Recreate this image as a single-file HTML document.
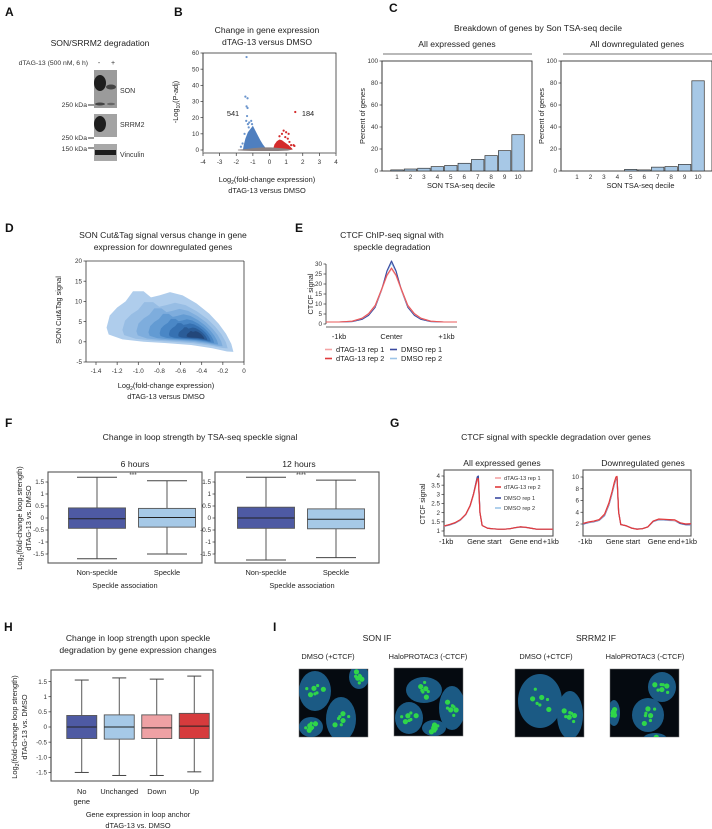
<!DOCTYPE html>
<html><head><meta charset="utf-8"><style>
html,body{margin:0;padding:0;background:#fff;}
svg{display:block;font-family:"Liberation Sans",Arial,sans-serif;}
.t{font-size:8.6px;fill:#222;text-anchor:middle;}
.tk{font-size:6.3px;fill:#333;}
.ax{font-size:7.4px;fill:#222;text-anchor:middle;}
.pl{font-size:12px;font-weight:bold;fill:#111;}
</style></head><body>
<svg id="fig" width="712" height="829" viewBox="0 0 712 829" xmlns="http://www.w3.org/2000/svg">
<text class="pl" x="5" y="16">A</text>
<text class="pl" x="174" y="16">B</text>
<text class="pl" x="389" y="12">C</text>
<text class="pl" x="5" y="232">D</text>
<text class="pl" x="295" y="232">E</text>
<text class="pl" x="5" y="427">F</text>
<text class="pl" x="390" y="427">G</text>
<text class="pl" x="4" y="631">H</text>
<text class="pl" x="273" y="631">I</text>

<g>
<text class="t" x="100" y="46">SON/SRRM2 degradation</text>
<text class="tk" x="88" y="65" text-anchor="end" style="font-size:6.8px">dTAG-13 (500 nM, 6 h)</text>
<text class="tk" x="99" y="65" text-anchor="middle" style="font-size:7px">-</text>
<text class="tk" x="113" y="65" text-anchor="middle" style="font-size:7px">+</text>
<rect x="94" y="70" width="23" height="38" fill="#9b9b9b"/>
<ellipse cx="100" cy="83" rx="6" ry="8" fill="#1e1e1e"/><ellipse cx="111" cy="87" rx="5" ry="2.5" fill="#444"/>
<ellipse cx="100" cy="104" rx="5" ry="1.5" fill="#444"/><ellipse cx="111" cy="104" rx="4" ry="1.2" fill="#666"/>
<rect x="94" y="114" width="23" height="23" fill="#a3a3a3"/>
<ellipse cx="100" cy="124" rx="6" ry="8" fill="#1e1e1e"/>
<rect x="94" y="144" width="23" height="17" fill="#a8a8a8"/>
<rect x="95" y="150" width="21" height="5" fill="#1e1e1e"/>
<text class="tk" x="120" y="93" style="font-size:7px">SON</text>
<text class="tk" x="120" y="127" style="font-size:7px">SRRM2</text>
<text class="tk" x="120" y="157" style="font-size:7px">Vinculin</text>
<text class="tk" x="87" y="107" text-anchor="end" style="font-size:6.8px">250 kDa</text><line x1="88" x2="94" y1="105" y2="105" stroke="#333"/>
<text class="tk" x="87" y="140" text-anchor="end" style="font-size:6.8px">250 kDa</text><line x1="88" x2="94" y1="138" y2="138" stroke="#333"/>
<text class="tk" x="87" y="151" text-anchor="end" style="font-size:6.8px">150 kDa</text><line x1="88" x2="94" y1="148" y2="148" stroke="#333"/>
</g>

<text class="t" x="267" y="33">Change in gene expression</text>
<text class="t" x="267" y="45">dTAG-13 versus DMSO</text>
<text class="ax" x="267" y="182">Log<tspan font-size="5" dy="2">2</tspan><tspan dy="-2">(fold-change expression)</tspan></text>
<text class="ax" x="267" y="193">dTAG-13 versus DMSO</text>
<text class="ax" transform="translate(178,102) rotate(-90)">-Log<tspan font-size="5" dy="2">10</tspan><tspan dy="-2">(P-adj)</tspan></text>

<text class="t" x="538" y="31">Breakdown of genes by Son TSA-seq decile</text>
<text class="t" x="457" y="47">All expressed genes</text>
<line x1="383" x2="532" y1="54" y2="54" stroke="#444" stroke-width="0.8"/>
<text class="t" x="637" y="47">All downregulated genes</text>
<line x1="563" x2="712" y1="54" y2="54" stroke="#444" stroke-width="0.8"/>

<text class="t" x="163" y="238">SON Cut&amp;Tag signal versus change in gene</text>
<text class="t" x="163" y="250">expression for downregulated genes</text>
<text class="ax" transform="translate(61,310) rotate(-90)">SON Cut&amp;Tag signal</text>
<text class="ax" x="166" y="388">Log<tspan font-size="5" dy="2">2</tspan><tspan dy="-2">(fold-change expression)</tspan></text>
<text class="ax" x="166" y="399">dTAG-13 versus DMSO</text>

<text class="t" x="392" y="238">CTCF ChIP-seq signal with</text>
<text class="t" x="392" y="250">speckle degradation</text>
<text class="ax" transform="translate(313,294) rotate(-90)">CTCF signal</text>

<text class="t" x="200" y="440">Change in loop strength by TSA-seq speckle signal</text>
<text class="t" x="135" y="467">6 hours</text>
<text class="t" x="299" y="467">12 hours</text>
<text class="ax" transform="translate(22,518) rotate(-90)">Log<tspan font-size="5" dy="2">2</tspan><tspan dy="-2">(fold-change loop strength)</tspan></text>
<text class="ax" transform="translate(31,518) rotate(-90)">dTAG-13 vs. DMSO</text>
<text class="ax" x="125" y="588">Speckle association</text>
<text class="ax" x="302" y="588">Speckle association</text>

<text class="t" x="556" y="440">CTCF signal with speckle degradation over genes</text>
<text class="t" x="502" y="466">All expressed genes</text>
<text class="t" x="643" y="466">Downregulated genes</text>
<text class="ax" transform="translate(425,504) rotate(-90)">CTCF signal</text>

<text class="t" x="138" y="641">Change in loop strength upon speckle</text>
<text class="t" x="138" y="653">degradation by gene expression changes</text>
<text class="ax" transform="translate(17,727) rotate(-90)">Log<tspan font-size="5" dy="2">2</tspan><tspan dy="-2">(fold-change loop strength)</tspan></text>
<text class="ax" transform="translate(27,727) rotate(-90)">dTAG-13 vs. DMSO</text>
<text class="ax" x="138" y="817">Gene expression in loop anchor</text>
<text class="ax" x="138" y="828">dTAG-13 vs. DMSO</text>

<g>
<text class="t" x="377" y="641">SON IF</text>
<text class="t" x="596" y="641">SRRM2 IF</text>
<text class="ax" x="328" y="659">DMSO (+CTCF)</text>
<text class="ax" x="428" y="659">HaloPROTAC3 (-CTCF)</text>
<text class="ax" x="546" y="659">DMSO (+CTCF)</text>
<text class="ax" x="645" y="659">HaloPROTAC3 (-CTCF)</text>
<g id="ifimgs"></g>
</g>
<g id="dyn"></g>
</svg>
<script>
// B volcano
const volcBlueCloudX=[-1.6,-1.55,-1.45,-1.3,-1.15,-1.0,-0.85,-0.7,-0.55,-0.4,-0.25,-0.2,-0.5,-1.0,-1.4];
const volcBlueCloudY=[0,3,7,11,13,15,12,9,6,3.5,1.5,0.3,0,0,0];
const volcBlueX=[-1.38,-1.45,-1.32,-1.38,-1.32,-1.35,-1.4,-1.22,-1.3,-1.72,-1.62,-1.1,-1.25,-1.5,-1.05];
const volcBlueY=[57.5,33,32,27,26,21,18,17,16,2,4,18,14,10,16];
const volcRedCloudX=[0.2,0.3,0.45,0.6,0.75,0.95,1.15,1.35,1.4,1.0,0.5];
const volcRedCloudY=[0,3.5,5.5,6.5,6,4.5,3,1,0.3,0,0];
const volcRedX=[1.55,0.75,0.85,1.0,1.15,1.2,1.3,1.45,1.5,0.95,1.1,0.6];
const volcRedY=[23.5,10,12,11,10,5,3,3,2.5,8,7,8.5];
const volcGreyX=[-1.9,-1.4,-0.9,-0.4,0.1,0.6,1.1,1.35,1.1,0.5,0,-0.5,-1.0,-1.5,-1.9];
const volcGreyY=[0.2,0.6,1.2,1.6,1.6,1.2,0.7,0.2,-0.4,-0.6,-0.6,-0.6,-0.6,-0.5,-0.2];
const volcXTicks=[-4,-3,-2,-1,0,1,2,3,4];
const volcYTicks=[0,10,20,30,40,50,60];
// C deciles
const decileCats=[1,2,3,4,5,6,7,8,9,10];
const decileAll=[1,1.8,2.5,4,5,7,10.5,14,18.5,33];
const decileDown=[0,0,0,0,1.5,1,3.5,4,6,82];
const pctTicks=[0,20,40,60,80,100];
// D KDE
const kdeOuterX=[-1.3,-1.27,-1.2,-1.12,-1.05,-0.95,-0.88,-0.8,-0.7,-0.58,-0.45,-0.33,-0.24,-0.17,-0.12,-0.1,-0.16,-0.3,-0.5,-0.75,-0.95,-1.15,-1.28];
const kdeOuterY=[3.5,6.5,8.5,10,12.5,12.5,11,11.5,12.3,11.5,9.5,7,4.5,2,-0.5,-2.5,-2.4,-1.6,-0.8,-0.3,0,0.6,1.8];
const kdePeak=[-0.42,1.2];
const kdeLevels=[1,0.83,0.68,0.55,0.43,0.33,0.23,0.14];
const kdeXTicks=[-1.4,-1.2,-1.0,-0.8,-0.6,-0.4,-0.2,0];
const kdeYTicks=[-5,0,5,10,15,20];
// E CTCF ChIP
const chipX=[-1,-0.8,-0.6,-0.45,-0.35,-0.25,-0.15,-0.07,0,0.07,0.15,0.25,0.35,0.45,0.6,0.8,1];
const chipDtag1=[1,1,1.4,2.8,5,9,17,24,27.5,24,17,9,5,2.8,1.4,1,1];
const chipDtag2=[1,1,1.4,2.9,5.2,9.3,17.5,24.5,28,24.5,17.5,9.3,5.2,2.9,1.4,1,1];
const chipDmso1=[1,1,1.2,2.3,4.3,8.3,17,26.5,31.5,26.5,17,8.3,4.3,2.3,1.2,1,1];
const chipDmso2=[1,1,1.2,2.4,4.5,8.6,17.5,26,30.5,26,17.5,8.6,4.5,2.4,1.2,1,1];
const chipYTicks=[0,5,10,15,20,25,30];
// F boxplots
const fCats=["Non-speckle","Speckle"];
const f6Hi=[1.7,1.55], f6Q3=[0.42,0.4], f6Med=[-0.03,0.02], f6Q1=[-0.43,-0.38], f6Lo=[-1.7,-1.5];
const f12Hi=[1.7,1.58], f12Q3=[0.45,0.38], f12Med=[0,-0.05], f12Q1=[-0.43,-0.45], f12Lo=[-1.75,-1.65];
const fYTicks=[1.5,1,0.5,0,-0.5,-1,-1.5];
const fYLabels=["1.5","1","0.5","0","-0.5","-1","-1.5"];
// G metagene
const geneX=[0,0.05,0.1,0.15,0.2,0.24,0.27,0.29,0.305,0.315,0.33,0.35,0.4,0.45,0.5,0.55,0.6,0.65,0.7,0.75,0.8,0.85,0.9,0.95,1];
const gAllDtag1=[1.28,1.35,1.45,1.6,1.9,2.35,2.95,3.45,3.8,3.75,2.0,1.3,1.15,1.12,1.1,1.1,1.12,1.18,1.22,1.2,1.15,1.1,1.1,1.1,1.1];
const gAllDtag2=[1.27,1.35,1.45,1.62,1.92,2.4,3.0,3.5,3.85,3.85,2.0,1.3,1.15,1.12,1.1,1.1,1.12,1.18,1.23,1.2,1.15,1.1,1.1,1.1,1.1];
const gAllDmso1=[1.27,1.34,1.44,1.6,1.9,2.38,3.0,3.55,3.95,4.0,2.0,1.3,1.15,1.12,1.1,1.1,1.12,1.18,1.22,1.2,1.15,1.1,1.1,1.1,1.1];
const gAllDmso2=[1.25,1.32,1.42,1.58,1.88,2.35,2.95,3.45,3.85,3.9,2.0,1.3,1.15,1.12,1.1,1.1,1.12,1.17,1.21,1.19,1.14,1.1,1.1,1.1,1.1];
const gDnDtag1=[2.1,2.3,2.45,2.7,3.6,5.4,7.4,8.9,9.8,9.9,4,1.9,1.7,1.3,1.15,1.2,1.5,2.5,2.8,2.8,2.7,2.6,2.2,2.0,2.0];
const gDnDtag2=[2.1,2.35,2.5,2.75,3.7,5.6,7.6,9.1,10.0,10.1,4,1.9,1.7,1.3,1.1,1.2,1.5,2.5,2.85,2.8,2.75,2.7,2.2,2.0,2.05];
const gDnDmso1=[2.0,2.25,2.4,2.65,3.5,5.3,7.3,8.8,9.7,9.9,4,1.9,1.7,1.3,1.15,1.2,1.5,2.45,2.75,2.75,2.65,2.6,2.1,1.9,1.9];
const gDnDmso2=[1.95,2.2,2.35,2.6,3.4,5.2,7.2,8.7,9.5,9.7,4,1.9,1.7,1.3,1.15,1.2,1.5,2.4,2.7,2.7,2.6,2.55,2.05,1.85,1.85];
const gAllTicks=[1,1.5,2,2.5,3,3.5,4];
const gDnTicks=[2,4,6,8,10];
// H boxplots
const hCats=["No gene","Unchanged","Down","Up"];
const hHi=[1.55,1.62,1.58,1.68], hQ3=[0.38,0.4,0.4,0.45], hMed=[0,0,-0.03,0.03], hQ1=[-0.38,-0.4,-0.38,-0.38], hLo=[-1.5,-1.6,-1.6,-1.48];
const hYTicks=[1.5,1,0.5,0,-0.5,-1,-1.5];
const hYLabels=["1.5","1","0.5","0","-0.5","-1.0","-1.5"];

const NS="http://www.w3.org/2000/svg";
const root=document.getElementById('dyn');
function el(tag,attrs,parent){const e=document.createElementNS(NS,tag);for(const k in attrs)e.setAttribute(k,attrs[k]);(parent||root).appendChild(e);return e;}
function lin(d0,d1,r0,r1){return v=>r0+(v-d0)*(r1-r0)/(d1-d0);}
function txt(x,y,s,anchor,cls,parent){const t=el('text',{x:x,y:y,'class':cls||'tk',style:'text-anchor:'+(anchor||'middle')},parent);t.textContent=s;return t;}
function yAxis(x,ticks,labels,ys,g){el('line',{x1:x,x2:x,y1:ys(ticks[0]),y2:ys(ticks[ticks.length-1]),stroke:'#333','stroke-width':0.8},g);
 ticks.forEach((t,i)=>{el('line',{x1:x-2.5,x2:x,y1:ys(t),y2:ys(t),stroke:'#333','stroke-width':0.7},g);
 const l=txt(x-4,ys(t)+2.2,labels?labels[i]:String(t),'end','tk',g);
 
 });}

// B
(function(){
 const g=el('g',{});
 
 
 const xs=lin(-4,4,203,336), ys=lin(0,60,150,53);
 el('rect',{x:203,y:53,width:133,height:100,fill:'none',stroke:'#333','stroke-width':0.8},g);
 el('line',{x1:203,x2:336,y1:153,y2:153,stroke:'#999','stroke-width':1.5},g);
 volcXTicks.forEach(t=>{el('line',{x1:xs(t),x2:xs(t),y1:153,y2:156,stroke:'#333','stroke-width':0.7},g);
  const l=txt(xs(t),164,String(t),'middle','tk',g);
  
  });
 yAxis(203,volcYTicks,null,ys,g);
 function poly(X,Y,fill,name){const p=el('polygon',{points:X.map((x,i)=>xs(x)+','+ys(Y[i])).join(' '),fill:fill},g);
  
  }
 poly(volcBlueCloudX,volcBlueCloudY,'#4f7fbf','downregulated-cloud');
 poly(volcRedCloudX,volcRedCloudY,'#d42b2b','upregulated-cloud');
 poly(volcGreyX,volcGreyY,'#8a8080','unchanged-cloud');
 volcBlueX.forEach((x,i)=>{const c=el('circle',{cx:xs(x),cy:ys(volcBlueY[i]),r:1.1,fill:'#6a94cc'},g);
  
  });
 volcRedX.forEach((x,i)=>{const c=el('circle',{cx:xs(x),cy:ys(volcRedY[i]),r:1.1,fill:'#d42b2b'},g);
  
  });
 const a=txt(233,116,'541','middle','ax',g);
 
 
 const b=txt(308,116,'184','middle','ax',g);
 
 
})();

// C
function decileChart(x0,x1,c1,vals,name){
 const g=el('g',{});
 
 
 const ys=lin(0,100,171,61), step=13.45, xs=c=>c1+(c-1)*step;
 el('rect',{x:x0,y:61,width:x1-x0,height:110,fill:'none',stroke:'#333','stroke-width':0.9},g);
 yAxis(x0,pctTicks,null,ys,g);
 vals.forEach((v,i)=>{const r=el('rect',{x:xs(decileCats[i])-step/2+0.5,y:ys(v),width:step-1,height:171-ys(v),fill:'#a7c8e6',stroke:'#333','stroke-width':0.7},g);
  
  
  const l=txt(xs(decileCats[i]),179,String(decileCats[i]),'middle','tk',g);
  
  });
 const xt=txt((x0+x1)/2+4,188,'SON TSA-seq decile','middle','ax',g);
 
 
 const yt=txt(0,0,'Percent of genes','middle','ax',g);
 yt.setAttribute('transform','translate('+(x0-17)+',116) rotate(-90)');
 
 
}
decileChart(382,532,397,decileAll,'all-expressed-bar-chart');
decileChart(561,712,577,decileDown,'downregulated-bar-chart');

// D
(function(){
 const g=el('g',{});
 
 
 const xs=lin(-1.4,0,96,244), ys=lin(-5,20,362,261);
 el('line',{x1:86,x2:244,y1:362,y2:362,stroke:'#333','stroke-width':0.8},g);
 yAxis(86,kdeYTicks,null,ys,g);
 el('line',{x1:86,x2:244,y1:261,y2:261,stroke:'#333','stroke-width':0.8},g);
 el('line',{x1:244,x2:244,y1:261,y2:362,stroke:'#333','stroke-width':0.8},g);
 kdeXTicks.forEach(t=>{el('line',{x1:xs(t),x2:xs(t),y1:362,y2:365,stroke:'#333','stroke-width':0.7},g);
  const l=txt(xs(t),373,t===0?'0':t.toFixed(1),'middle','tk',g);
  
  });
 const cols=['#afcdec','#97bde4','#7eaddd','#639bd3','#4a87c6','#3671b2','#2a5c98','#23477a'];
 kdeLevels.forEach((s,k)=>{
  const pts=kdeOuterX.map((x,i)=>{const dx=kdePeak[0]+(x-kdePeak[0])*s, dy=kdePeak[1]+(kdeOuterY[i]-kdePeak[1])*s*(k?0.92:1);return xs(dx)+','+ys(dy);}).join(' ');
  const p=el('polygon',{points:pts,fill:cols[k],stroke:'none'},g);
  
  });
})();

// E
(function(){
 const g=el('g',{});
 
 
 const xs=lin(-1,1,326,457), ys=lin(0,30,324,264);
 el('line',{x1:326,x2:457,y1:327,y2:327,stroke:'#333','stroke-width':0.8},g);
 yAxis(326,chipYTicks,null,ys,g);
 [[-0.8,'-1kb'],[0,'Center'],[0.84,'+1kb']].forEach(a=>{const l=txt(xs(a[0]),339,a[1],'middle','ax',g);
  
  });
 const series=[[chipDmso2,'#9cc4e8'],[chipDmso1,'#3b4aa0'],[chipDtag1,'#f4a3a5'],[chipDtag2,'#e8585a']];
 series.forEach(s=>{const p=el('polyline',{points:chipX.map((x,i)=>xs(x)+','+ys(s[0][i])).join(' '),fill:'none',stroke:s[1],'stroke-width':1.1,'stroke-linejoin':'round'},g);
  
  });
 const leg=[[325,352,'#f4a3a5','dTAG-13 rep 1'],[325,361,'#e03a3c','dTAG-13 rep 2'],[390,352,'#3b4aa0','DMSO rep 1'],[390,361,'#9cc4e8','DMSO rep 2']];
 leg.forEach(l=>{const gg=el('g',{},g);
  
  
  el('line',{x1:l[0],x2:l[0]+7,y1:l[1]-2.5,y2:l[1]-2.5,stroke:l[2],'stroke-width':1.6},gg);
  txt(l[0]+11,l[1],l[3],'start','ax',gg);});
})();

// Boxplots
function boxChart(o){
 const g=el('g',{});
 
 
 const ys=v=>o.y0-o.k*v;
 el('rect',{x:o.x0,y:o.top,width:o.x1-o.x0,height:o.bot-o.top,fill:'none',stroke:'#555','stroke-width':1.1},g);
 yAxis(o.x0,o.ticks,o.labels,ys,g);
 const band=(o.r1-o.r0)/o.cats.length;
 o.cats.forEach((c,i)=>{const cx=o.r0+band*(i+0.5), w=o.bw, cw=o.cw;
  const b=el('g',{},g);
  
  
  el('line',{x1:cx,x2:cx,y1:ys(o.hi[i]),y2:ys(o.q3[i]),stroke:'#444','stroke-width':0.9},b);
  el('line',{x1:cx,x2:cx,y1:ys(o.q1[i]),y2:ys(o.lo[i]),stroke:'#444','stroke-width':0.9},b);
  el('line',{x1:cx-cw/2,x2:cx+cw/2,y1:ys(o.hi[i]),y2:ys(o.hi[i]),stroke:'#444','stroke-width':1},b);
  el('line',{x1:cx-cw/2,x2:cx+cw/2,y1:ys(o.lo[i]),y2:ys(o.lo[i]),stroke:'#444','stroke-width':1},b);
  el('rect',{x:cx-w/2,y:ys(o.q3[i]),width:w,height:ys(o.q1[i])-ys(o.q3[i]),fill:o.colors[i],stroke:'#555','stroke-width':0.9},b);
  el('line',{x1:cx-w/2,x2:cx+w/2,y1:ys(o.med[i]),y2:ys(o.med[i]),stroke:'#222','stroke-width':1},b);
  const parts=(o.xl?o.xl[i]:[c]);
  parts.forEach((p,j)=>{const l=txt(cx,o.lblY+j*10,p,'middle','ax',g);
   
   });
 });
 if(o.star){const s=txt(o.star[0],o.star[1],o.star[2],'middle','tk',g);
  
  }
}
const fCol=['#4e5aa3','#a6c9e7'];
boxChart({name:'boxplot-6-hours',cats:fCats,x0:48,x1:202,top:472,bot:563,y0:518,k:24,r0:62,r1:202,bw:57,cw:40,hi:f6Hi,q3:f6Q3,med:f6Med,q1:f6Q1,lo:f6Lo,colors:fCol,ticks:fYTicks,labels:fYLabels,lblY:575,star:[133,477,'***']});
boxChart({name:'boxplot-12-hours',cats:fCats,x0:215,x1:379,top:472,bot:563,y0:518,k:24,r0:231,r1:371,bw:57,cw:40,hi:f12Hi,q3:f12Q3,med:f12Med,q1:f12Q1,lo:f12Lo,colors:fCol,ticks:fYTicks,labels:fYLabels,lblY:575,star:[301,477,'****']});
boxChart({name:'boxplot-gene-expression',cats:hCats,x0:51,x1:213,top:670,bot:781,y0:727,k:30.3,r0:63,r1:213,bw:30,cw:14,hi:hHi,q3:hQ3,med:hMed,q1:hQ1,lo:hLo,colors:['#4e5aa3','#a6c9e7','#eea1a4','#d63b3d'],ticks:hYTicks,labels:hYLabels,lblY:794,xl:[['No','gene'],['Unchanged'],['Down'],['Up']]});

// G
function geneChart(o){
 const g=el('g',{});
 
 
 const xs=lin(0,1,o.x0,o.x1), ys=lin(o.d0,o.d1,o.p0,o.p1);
 el('rect',{x:o.x0,y:470,width:o.x1-o.x0,height:o.bot-470,fill:'none',stroke:'#555','stroke-width':1.1},g);
 yAxis(o.x0,o.ticks,null,ys,g);
 [[0.02,'-1kb'],[0.37,'Gene start'],[0.75,'Gene end'],[0.98,'+1kb']].forEach(a=>{const l=txt(xs(a[0]),544,a[1],'middle','ax',g);
  
  });
 o.series.forEach(s=>{const p=el('polyline',{points:geneX.map((x,i)=>xs(x)+','+ys(s[0][i])).join(' '),fill:'none',stroke:s[1],'stroke-width':1.2,'stroke-linejoin':'round'},g);
  
  });
 return g;
}
const gAll=geneChart({name:'all-expressed-metagene',x0:444,x1:553,bot:536,d0:1,d1:4,p0:531,p1:476,ticks:gAllTicks,
 series:[[gAllDmso2,'#9cc4e8'],[gAllDmso1,'#3b4aa0'],[gAllDtag1,'#f4a3a5'],[gAllDtag2,'#e03a3c']]});
geneChart({name:'downregulated-metagene',x0:583,x1:691,bot:536,d0:2,d1:10,p0:524,p1:477,ticks:gDnTicks,
 series:[[gDnDmso2,'#9cc4e8'],[gDnDmso1,'#3b4aa0'],[gDnDtag1,'#f4a3a5'],[gDnDtag2,'#e03a3c']]});
[[495,480,'#f4a3a5','dTAG-13 rep 1'],[495,489,'#e03a3c','dTAG-13 rep 2'],[495,500,'#3b4aa0','DMSO rep 1'],[495,510,'#9cc4e8','DMSO rep 2']].forEach(l=>{
 const gg=el('g',{},gAll);
 
 
 el('line',{x1:l[0],x2:l[0]+6,y1:l[1]-2,y2:l[1]-2,stroke:l[2],'stroke-width':1.6},gg);
 const t=txt(l[0]+9,l[1],l[3],'start','tk',gg);t.setAttribute('style','text-anchor:start;font-size:5.6px');});

// I
(function(){
 const host=document.getElementById('ifimgs');
 const imgs=[[299,669,'son-dmso-image',[[16,22,16,20],[42,50,15,22],[12,58,12,10],[60,8,10,12]]],
  [394,668,'son-halo-image',[[30,22,18,13],[58,40,13,22],[15,50,14,16],[40,60,12,8]]],
  [515,669,'srrm2-dmso-image',[[25,32,22,27],[55,46,13,24]]],
  [610,669,'srrm2-halo-image',[[52,18,14,15],[38,46,16,17],[4,44,6,13],[45,70,12,6]]]];
 imgs.forEach(im=>{const g=el('g',{transform:'translate('+im[0]+','+im[1]+')'},host);
  
  
  const cid='clip'+im[0];
  const cp=el('clipPath',{id:cid},g);el('rect',{x:0,y:0,width:69,height:68},cp);
  el('rect',{x:0,y:0,width:69,height:68,fill:'#050a10',stroke:'#777','stroke-width':0.5},g);
  const inner=el('g',{'clip-path':'url(#'+cid+')'},g);
  im[3].forEach(n=>{el('ellipse',{cx:n[0],cy:n[1],rx:n[2],ry:n[3],fill:'#1b5a84'},inner);
   for(let a=0;a<7;a++){const ang=a*0.9+n[0]*0.1, r=0.55*Math.min(n[2],n[3])*((a%3)/3+0.3);
    el('circle',{cx:n[0]+Math.cos(ang)*r,cy:n[1]+Math.sin(ang)*r*1.1,r:1.6+(a%2),fill:'#2fd64a'},inner);}});
 });
})();
</script>
</body></html>
